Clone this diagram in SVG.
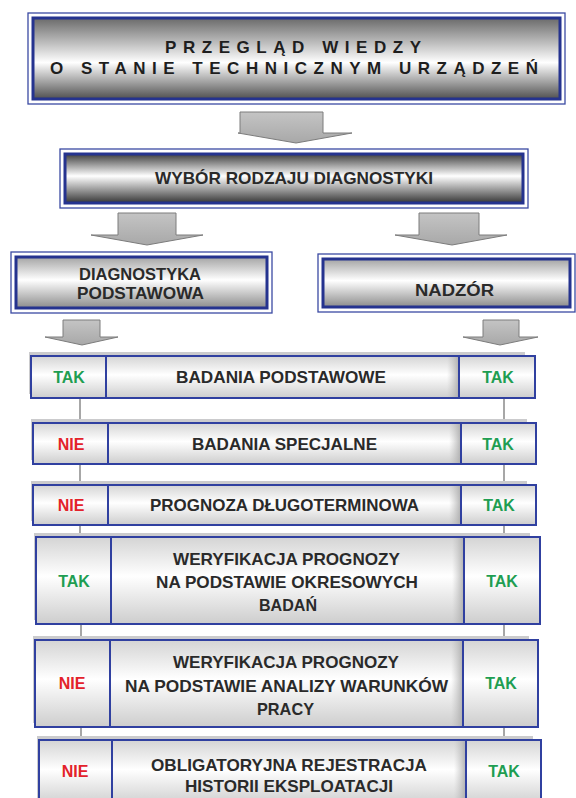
<svg xmlns="http://www.w3.org/2000/svg" width="576" height="798" viewBox="0 0 576 798">
<defs>
<linearGradient id="gTop" x1="0" y1="0" x2="0" y2="1">
<stop offset="0" stop-color="#6a6a6a"/><stop offset="0.55" stop-color="#ffffff"/><stop offset="1" stop-color="#505050"/>
</linearGradient>
<linearGradient id="gSel" x1="0" y1="0" x2="0" y2="1">
<stop offset="0" stop-color="#3e3e3e"/><stop offset="0.45" stop-color="#ffffff"/><stop offset="1" stop-color="#363636"/>
</linearGradient>
<linearGradient id="gMid" x1="0" y1="0" x2="0" y2="1">
<stop offset="0" stop-color="#a4a4a4"/><stop offset="0.45" stop-color="#ffffff"/><stop offset="1" stop-color="#8c8c8c"/>
</linearGradient>
<linearGradient id="gRow" x1="0" y1="0" x2="0" y2="1">
<stop offset="0" stop-color="#d4d4d4"/><stop offset="0.45" stop-color="#ffffff"/><stop offset="1" stop-color="#cdcdcd"/>
</linearGradient>
<linearGradient id="gArr" x1="0" y1="0" x2="0" y2="1">
<stop offset="0" stop-color="#c4c4c4"/><stop offset="1" stop-color="#a8a8a8"/>
</linearGradient>
<linearGradient id="gSide" x1="0" y1="0" x2="1" y2="0">
<stop offset="0" stop-color="#bdbdbd" stop-opacity="0"/><stop offset="1" stop-color="#a9a9a9" stop-opacity="0.8"/>
</linearGradient>
</defs>
<style>
.ob{fill:none;stroke:#3b4aa3;stroke-width:1.3}
.ib{stroke:#25338f;stroke-width:3}
.cell{fill:url(#gRow);stroke:#3040a0;stroke-width:2}
.sh{fill:#cbcbcd}
.t{font-family:"Liberation Sans",Arial,sans-serif;font-weight:bold;fill:#2a2a2a}
.h{font-size:17px;fill:#1e1e1e}
.m{font-size:16.5px}
.tak{font-family:"Liberation Sans",Arial,sans-serif;font-weight:bold;font-size:16px;fill:#1f9e52;text-anchor:middle}
.nie{font-family:"Liberation Sans",Arial,sans-serif;font-weight:bold;font-size:16px;fill:#e3222b;text-anchor:middle}
.arr{fill:url(#gArr);stroke:#7c7c7c;stroke-width:1}
.ln{stroke:#8a8a8a;stroke-width:1.5;fill:none}
</style>
<rect width="576" height="798" fill="#ffffff"/>

<g id="connectors">
<polygon class="arr" points="240,112 323,112 323,133 352,133 296,143 238,133 240,133"/>
<polygon class="arr" points="118,213 176,213 176,235 203,235 147,245 91,235 118,235"/>
<polygon class="arr" points="419,213 479,213 479,235 507,235 452,245 395,235 419,235"/>
<polygon class="arr" points="63,320 100,320 100,337 118,337 82,345 45,337 63,337"/>
<polygon class="arr" points="483,320 519,320 519,337 538,337 500,345 463,337 483,337"/>
<line class="ln" x1="80" y1="398" x2="80" y2="423"/>
<line class="ln" x1="80" y1="464" x2="80" y2="485"/>
<line class="ln" x1="80" y1="525" x2="80" y2="537"/>
<line class="ln" x1="81" y1="624" x2="81" y2="640"/>
<line class="ln" x1="81" y1="727" x2="81" y2="740"/>
<line class="ln" x1="504" y1="398" x2="504" y2="423"/>
<line class="ln" x1="504" y1="464" x2="504" y2="485"/>
<line class="ln" x1="504" y1="525" x2="504" y2="537"/>
<line class="ln" x1="504" y1="624" x2="504" y2="640"/>
<line class="ln" x1="504" y1="727" x2="504" y2="740"/>
</g>

<g id="przeglad">
<rect class="ob" x="28" y="13" width="537" height="91"/>
<rect class="ib" x="33" y="18" width="527" height="81" fill="url(#gTop)"/>
<text class="t h" x="165" y="53" textLength="256" lengthAdjust="spacing">PRZEGLĄD WIEDZY</text>
<text class="t h" x="50" y="74" textLength="488" lengthAdjust="spacing">O STANIE TECHNICZNYM URZĄDZEŃ</text>
</g>

<g id="wybor">
<rect class="ob" x="60" y="149" width="468" height="59"/>
<rect class="ib" x="65" y="154" width="458" height="49" fill="url(#gSel)"/>
<text class="t m" x="155" y="184" textLength="278" lengthAdjust="spacingAndGlyphs">WYBÓR RODZAJU DIAGNOSTYKI</text>
</g>

<g id="diagnostyka">
<rect class="ob" x="11" y="252" width="261" height="61"/>
<rect class="ib" x="16" y="257" width="251" height="51" fill="url(#gMid)"/>
<text class="t m" x="79" y="280" textLength="122" lengthAdjust="spacingAndGlyphs">DIAGNOSTYKA</text>
<text class="t m" x="77" y="299" textLength="127" lengthAdjust="spacingAndGlyphs">PODSTAWOWA</text>
</g>

<g id="nadzor">
<rect class="ob" x="318" y="254" width="257" height="58"/>
<rect class="ib" x="323" y="259" width="247" height="48" fill="url(#gMid)"/>
<text class="t m" x="415" y="296" textLength="79" lengthAdjust="spacingAndGlyphs">NADZÓR</text>
</g>

<g id="row1">
<rect class="sh" x="29" y="352" width="496" height="42"/>
<rect class="cell" x="31" y="356" width="75" height="42"/>
<rect class="cell" x="106" y="356" width="353" height="42"/>
<rect x="447" y="357" width="11" height="40" fill="url(#gSide)"/>
<rect class="cell" x="459" y="356" width="76" height="42"/>
<text class="tak" x="69" y="383">TAK</text>
<text class="t m" x="176" y="383" textLength="210" lengthAdjust="spacingAndGlyphs">BADANIA PODSTAWOWE</text>
<text class="tak" x="498" y="383">TAK</text>
</g>

<g id="row2">
<rect class="sh" x="31" y="419" width="496" height="41"/>
<rect class="cell" x="33" y="423" width="75" height="41"/>
<rect class="cell" x="108" y="423" width="353" height="41"/>
<rect x="449" y="424" width="11" height="39" fill="url(#gSide)"/>
<rect class="cell" x="461" y="423" width="75" height="41"/>
<text class="nie" x="71" y="450">NIE</text>
<text class="t m" x="192" y="450" textLength="185" lengthAdjust="spacingAndGlyphs">BADANIA SPECJALNE</text>
<text class="tak" x="498" y="450">TAK</text>
</g>

<g id="row3">
<rect class="sh" x="31" y="481" width="496" height="40"/>
<rect class="cell" x="33" y="485" width="75" height="40"/>
<rect class="cell" x="108" y="485" width="353" height="40"/>
<rect x="449" y="486" width="11" height="38" fill="url(#gSide)"/>
<rect class="cell" x="461" y="485" width="75" height="40"/>
<text class="nie" x="71" y="511">NIE</text>
<text class="t m" x="150" y="511" textLength="269" lengthAdjust="spacingAndGlyphs">PROGNOZA DŁUGOTERMINOWA</text>
<text class="tak" x="499" y="511">TAK</text>
</g>

<g id="row4">
<rect class="sh" x="34" y="533" width="496" height="87"/>
<rect class="cell" x="36" y="537" width="75" height="87"/>
<rect class="cell" x="111" y="537" width="353" height="87"/>
<rect x="452" y="538" width="11" height="85" fill="url(#gSide)"/>
<rect class="cell" x="464" y="537" width="76" height="87"/>
<text class="tak" x="74" y="587">TAK</text>
<text class="t m" x="173" y="565" textLength="227" lengthAdjust="spacingAndGlyphs">WERYFIKACJA PROGNOZY</text>
<text class="t m" x="156" y="588" textLength="262" lengthAdjust="spacingAndGlyphs">NA PODSTAWIE OKRESOWYCH</text>
<text class="t m" x="259" y="611" textLength="58" lengthAdjust="spacingAndGlyphs">BADAŃ</text>
<text class="tak" x="502" y="587">TAK</text>
</g>

<g id="row5">
<rect class="sh" x="33" y="636" width="496" height="87"/>
<rect class="cell" x="35" y="640" width="75" height="87"/>
<rect class="cell" x="110" y="640" width="353" height="87"/>
<rect x="451" y="641" width="11" height="85" fill="url(#gSide)"/>
<rect class="cell" x="463" y="640" width="75" height="87"/>
<text class="nie" x="72" y="689">NIE</text>
<text class="t m" x="173" y="668" textLength="226" lengthAdjust="spacingAndGlyphs">WERYFIKACJA PROGNOZY</text>
<text class="t m" x="125" y="692" textLength="323" lengthAdjust="spacingAndGlyphs">NA PODSTAWIE ANALIZY WARUNKÓW</text>
<text class="t m" x="257" y="715" textLength="57" lengthAdjust="spacingAndGlyphs">PRACY</text>
<text class="tak" x="501" y="689">TAK</text>
</g>

<g id="row6">
<rect class="sh" x="37" y="736" width="496" height="70"/>
<rect class="cell" x="39" y="740" width="73" height="66"/>
<rect class="cell" x="112" y="740" width="354" height="66"/>
<rect x="454" y="741" width="11" height="64" fill="url(#gSide)"/>
<rect class="cell" x="466" y="740" width="75" height="66"/>
<text class="nie" x="75" y="777">NIE</text>
<text class="t m" x="151" y="771" textLength="276" lengthAdjust="spacingAndGlyphs">OBLIGATORYJNA REJESTRACJA</text>
<text class="t m" x="185" y="792" textLength="208" lengthAdjust="spacingAndGlyphs">HISTORII EKSPLOATACJI</text>
<text class="tak" x="504" y="777">TAK</text>
</g>
</svg>
